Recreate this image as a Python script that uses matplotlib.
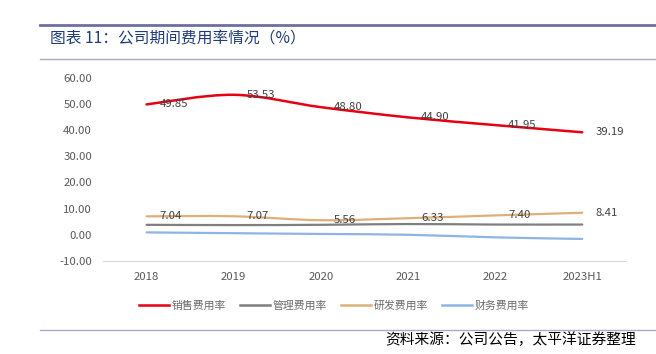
import numpy as np
import matplotlib.pyplot as plt
from matplotlib.path import Path
from matplotlib.patches import PathPatch
from matplotlib.lines import Line2D

plt.rcParams['font.family'] = ['Noto Sans CJK SC', 'DejaVu Sans']

years = ["2018", "2019", "2020", "2021", "2022", "2023H1"]
sales = [49.85, 53.53, 48.80, 44.90, 41.95, 39.19]
admin = [3.8, 3.7, 3.8, 4.1, 3.9, 3.9]
rnd = [7.04, 7.07, 5.56, 6.33, 7.40, 8.41]
finance = [0.9, 0.6, 0.3, 0.0, -1.0, -1.6]

names = ["销售费用率", "管理费用率", "研发费用率", "财务费用率"]
colors = ["#E60012", "#7F7F7F", "#DDB07A", "#8EB4E3"]
label_series = [True, False, True, False]


def smooth_path(x, y):
    # Excel style smoothed line: cubic bezier through every point
    x = np.asarray(x, float)
    y = np.asarray(y, float)
    verts = [(x[0], y[0])]
    codes = [Path.MOVETO]
    n = len(x)
    for i in range(n - 1):
        p0 = i - 1 if i > 0 else i
        p3 = i + 2 if i + 2 < n else i + 1
        c1 = (x[i] + (x[i + 1] - x[p0]) / 6, y[i] + (y[i + 1] - y[p0]) / 6)
        c2 = (x[i + 1] - (x[p3] - x[i]) / 6, y[i + 1] - (y[p3] - y[i]) / 6)
        verts += [c1, c2, (x[i + 1], y[i + 1])]
        codes += [Path.CURVE4] * 3
    return Path(verts, codes)


fig = plt.figure(figsize=(6.56, 3.54), dpi=100)
ax = fig.add_axes([0.157, 0.263, 0.797, 0.517])

xs = np.arange(len(years))
for vals, color, name, lab in zip([sales, admin, rnd, finance], colors, names, label_series):
    patch = PathPatch(smooth_path(xs, vals), facecolor="none", edgecolor=color,
                      lw=1.8 if color == "#E60012" else 1.6, capstyle="round")
    ax.add_patch(patch)
    if lab:
        for xi, v in zip(xs, vals):
            ax.annotate(f"{v:.2f}", (xi, v), xytext=(13, 0), textcoords="offset pixels",
                        ha="left", va="center", fontsize=8.2, color="#404040")

ax.set_xlim(-0.5, 5.5)
ax.set_ylim(-10, 60)
ax.set_yticks(np.arange(-10, 61, 10))
ax.set_yticklabels([f"{v:.2f}" for v in np.arange(-10, 61, 10)])
ax.set_xticks(xs)
ax.set_xticklabels(years)
ax.tick_params(length=0, labelsize=8.2, colors="#595959", pad=8)
for s in ["top", "right", "left"]:
    ax.spines[s].set_visible(False)
ax.spines["bottom"].set_color("#D9D9D9")

handles = [Line2D([0], [0], color=c, lw=1.8) for c in colors]
fig.legend(handles, names, loc="center", bbox_to_anchor=(0.509, 0.138), ncol=4, frameon=False,
           fontsize=7.8, labelcolor="#6A6A6A", handlelength=2.8, handletextpad=0.2, columnspacing=1.3)

# header and footer rules
fig.add_artist(Line2D([40 / 656, 1], [1 - 25 / 354] * 2, color="#6F6F9F", lw=2.0))
fig.add_artist(Line2D([40 / 656, 1], [1 - 59 / 354] * 2, color="#A9A9C6", lw=1.0))
fig.add_artist(Line2D([40 / 656, 1], [1 - 329.5 / 354] * 2, color="#A9A9C6", lw=1.0))

fig.text(50 / 656, 1 - 39 / 354, "图表 11：公司期间费用率情况（%）", fontsize=11.3,
         color="#1F3C78", va="center", ha="left")
fig.text(636 / 656, 1 - 340 / 354, "资料来源：公司公告，太平洋证券整理", fontsize=10.6,
         color="#000000", va="center", ha="right")

fig.savefig("out.png", dpi=100)
